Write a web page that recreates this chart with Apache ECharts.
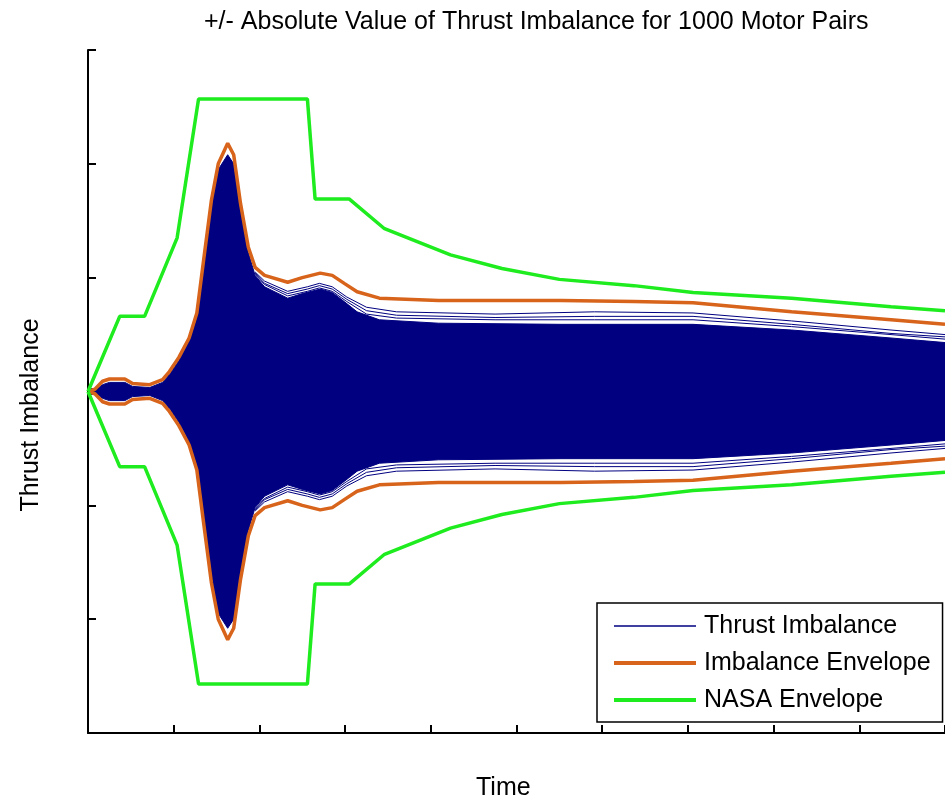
<!DOCTYPE html>
<html>
<head>
<meta charset="utf-8">
<script src="https://cdn.jsdelivr.net/npm/echarts@6/dist/echarts.min.js"></script>
<style>
html,body{margin:0;padding:0;background:#fff;}
#chart{width:945px;height:804px;}
</style>
</head>
<body>
<div id="chart"></div>
<script>
// ---- data (y is the + side, the - side mirrors it) ----
const titleText = '+/- Absolute Value of Thrust Imbalance for 1000 Motor Pairs';
const xName = 'Time';
const yName = 'Thrust Imbalance';
const seriesNames = ['Thrust Imbalance', 'Imbalance Envelope', 'NASA Envelope'];

// NASA envelope
const timeNasa  = [0, 0.37, 0.66, 1.04, 1.29, 2.56, 2.65, 3.05, 3.46, 4.23, 4.83, 5.50, 6.37, 7.06, 8.21, 9.37, 10];
const nasaUpper = [0, 0.66, 0.66, 1.35, 2.57, 2.57, 1.69, 1.69, 1.43, 1.20, 1.08, 0.985, 0.93, 0.87, 0.82, 0.745, 0.71];

// Imbalance envelope
const timeEnv  = [0, 0.08, 0.17, 0.25, 0.43, 0.52, 0.72, 0.87, 0.95, 1.06, 1.18, 1.27, 1.35, 1.44, 1.52, 1.63, 1.70, 1.78, 1.87, 1.95, 2.06, 2.33, 2.50, 2.71, 2.85, 2.99, 3.14, 3.40, 4.09, 5.52, 6.37, 7.06, 8.21, 9.37, 10];
const envUpper = [0, 0.02, 0.09, 0.11, 0.11, 0.07, 0.06, 0.105, 0.175, 0.30, 0.47, 0.69, 1.16, 1.68, 2.00, 2.18, 2.08, 1.65, 1.27, 1.09, 1.02, 0.96, 1.00, 1.04, 1.02, 0.95, 0.876, 0.82, 0.80, 0.80, 0.79, 0.78, 0.70, 0.63, 0.59];

// Thrust imbalance: dense band of the 1000 traces
const timeFill  = [0, 0.08, 0.17, 0.25, 0.43, 0.52, 0.72, 0.87, 0.95, 1.06, 1.18, 1.27, 1.35, 1.44, 1.52, 1.63, 1.70, 1.78, 1.87, 1.95, 2.06, 2.33, 2.50, 2.71, 2.85, 2.99, 3.14, 3.40, 4.09, 5.52, 6.37, 7.06, 8.21, 9.37, 10];
const fillUpper = [0, 0.01, 0.06, 0.08, 0.08, 0.045, 0.035, 0.08, 0.15, 0.27, 0.44, 0.65, 1.12, 1.63, 1.95, 2.08, 2.00, 1.60, 1.22, 1.02, 0.92, 0.82, 0.86, 0.90, 0.87, 0.79, 0.70, 0.63, 0.60, 0.59, 0.59, 0.59, 0.54, 0.47, 0.43];

// a few outer individual traces
const timeTrace = [1.95, 2.06, 2.33, 2.56, 2.70, 2.85, 3.02, 3.25, 3.60, 4.75, 5.91, 7.06, 8.21, 9.37, 10];
const trace1 = [1.05, 0.97, 0.88, 0.92, 0.95, 0.92, 0.83, 0.74, 0.70, 0.68, 0.70, 0.69, 0.62, 0.54, 0.50];
const trace2 = [1.04, 0.95, 0.86, 0.90, 0.93, 0.90, 0.81, 0.71, 0.67, 0.65, 0.66, 0.66, 0.59, 0.51, 0.48];
const trace3 = [1.03, 0.94, 0.84, 0.88, 0.91, 0.88, 0.79, 0.68, 0.645, 0.63, 0.63, 0.63, 0.57, 0.50, 0.46];

// ---- styles ----
const NAVY = '#000080';
const ORANGE = '#d7641a';
const GREEN = '#1eec1e';
const FONT = 'Liberation Sans, Arial, sans-serif';

function pts(t, v, sign) { return t.map((x, i) => [x, sign * v[i]]); }

const series = [];
function addLine(name, t, v, color, width, area) {
  [1, -1].forEach(s => {
    const o = {
      name: name, type: 'line', data: pts(t, v, s),
      symbol: 'none', showSymbol: false, silent: true,
      lineStyle: { color: color, width: width },
      itemStyle: { color: color }
    };
    if (area) o.areaStyle = { color: color, opacity: 1, origin: s > 0 ? -0.03 : 0.03 };
    series.push(o);
  });
}
addLine(seriesNames[0], timeFill, fillUpper, NAVY, 1, true);
addLine(seriesNames[0], timeTrace, trace1, NAVY, 1, false);
addLine(seriesNames[0], timeTrace, trace2, NAVY, 1, false);
addLine(seriesNames[0], timeTrace, trace3, NAVY, 1, false);
addLine(seriesNames[1], timeEnv, envUpper, ORANGE, 3.5, false);
addLine(seriesNames[2], timeNasa, nasaUpper, GREEN, 3.5, false);

const axisCommon = {
  type: 'value',
  interval: 1,
  axisLine: { onZero: false, lineStyle: { color: '#000', width: 2 } },
  axisTick: { inside: true, length: 8, lineStyle: { color: '#000', width: 2 } },
  axisLabel: { show: false },
  splitLine: { show: false }
};

const hiddenMark = { opacity: 0, borderWidth: 0 };

const chart = echarts.init(document.getElementById('chart'), null, { renderer: 'canvas' });
chart.setOption({
  animation: false,
  backgroundColor: '#fff',
  title: {
    text: titleText, left: 199, top: 5,
    textStyle: { fontFamily: FONT, fontSize: 25, fontWeight: 'normal', color: '#000' }
  },
  grid: { left: 88, top: 50, width: 867, height: 683, containLabel: false },
  xAxis: Object.assign({}, axisCommon, { min: 0, max: 10 }),
  yAxis: Object.assign({}, axisCommon, { min: -3, max: 3 }),
  legend: {
    data: [
      { name: seriesNames[0], itemStyle: hiddenMark, lineStyle: { color: NAVY, width: 1.5 } },
      { name: seriesNames[1], itemStyle: hiddenMark, lineStyle: { color: ORANGE, width: 4 } },
      { name: seriesNames[2], itemStyle: hiddenMark, lineStyle: { color: GREEN, width: 4 } }
    ],
    orient: 'vertical',
    left: 597, top: 603,
    itemWidth: 82, itemHeight: 14, itemGap: 11,
    padding: [10, 12, 9, 15],
    borderColor: '#000', borderWidth: 1.5, backgroundColor: '#fff',
    selectedMode: false,
    textStyle: { fontFamily: FONT, fontSize: 25, color: '#000', lineHeight: 26, padding: [0, 0, 0, 3] }
  },
  graphic: [
    { type: 'text', left: 476, top: 776, style: { text: xName, font: '25px ' + FONT, fill: '#000' } },
    { type: 'text', x: 31, y: 415, rotation: Math.PI / 2,
      style: { text: yName, font: '25px ' + FONT, fill: '#000', textAlign: 'center', textVerticalAlign: 'middle' } }
  ],
  series: series
});
</script>
</body>
</html>
